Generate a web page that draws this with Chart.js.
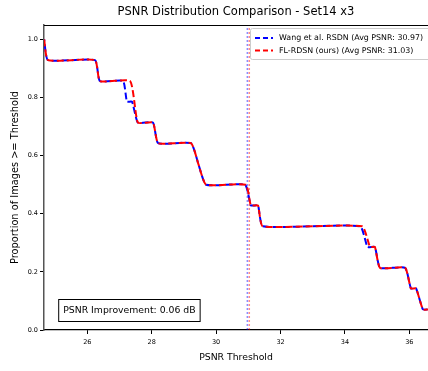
<!DOCTYPE html>
<html>
<head>
<meta charset="utf-8">
<script src="https://cdn.jsdelivr.net/npm/chart.js@4/dist/chart.umd.min.js"></script>
<style>
  html, body { margin: 0; padding: 0; background: #fff; }
</style>
</head>
<body>
<canvas id="myChart" width="428" height="371"></canvas>
<script>
// step corners of the survival curves (proportion of images with PSNR >= threshold)
const rsdnX = [24.66, 24.78, 26.24, 26.39, 27.11, 27.23, 27.39, 27.57, 28.04, 28.20, 29.22, 29.45, 29.69, 30.90, 31.08, 31.30, 31.45, 34.47, 34.70, 34.93, 35.09, 35.87, 36.05, 36.21, 36.42, 36.58];
const rsdnY = [1.0, 0.929, 0.929, 0.857, 0.857, 0.786, 0.786, 0.714, 0.714, 0.643, 0.643, 0.571, 0.5, 0.5, 0.429, 0.429, 0.357, 0.357, 0.286, 0.286, 0.214, 0.214, 0.143, 0.143, 0.071, 0.071];
const oursX = [24.66, 24.78, 26.24, 26.39, 27.33, 27.57, 28.04, 28.20, 29.22, 29.45, 29.69, 30.92, 31.08, 31.30, 31.45, 34.53, 34.78, 34.93, 35.09, 35.87, 36.05, 36.21, 36.42, 36.58];
const oursY = [1.0, 0.929, 0.929, 0.857, 0.857, 0.714, 0.714, 0.643, 0.643, 0.571, 0.5, 0.5, 0.429, 0.429, 0.357, 0.357, 0.286, 0.286, 0.214, 0.214, 0.143, 0.143, 0.071, 0.071];

const seriesNames = ["Wang et al. RSDN", "FL-RDSN (ours)"];
const avgPsnr = [30.97, 31.03];
const xTicks = [26, 28, 30, 32, 34, 36];
const yTicks = [0.0, 0.2, 0.4, 0.6, 0.8, 1.0];

const FONT = "'DejaVu Sans', sans-serif";

function toPoints(xs, ys) {
    return xs.map((x, i) => ({ x: x, y: ys[i] }));
}

// vertical dotted line at the average psnr
function avgLine(value, color, order) {
    return {
        label: "",
        data: [{ x: value, y: 0 }, { x: value, y: 1.05 }],
        borderColor: color,
        borderWidth: 1.5,
        borderDash: [2, 2],
        pointRadius: 0,
        fill: false,
        order: order,
        inLegend: false,
    };
}

// frame line on top of the plot ======================================
const topSpine = {
    id: 'topSpine',
    afterDraw(chart) {
        const { ctx, chartArea: { left, right, top } } = chart;
        ctx.save();
        ctx.strokeStyle = '#000';
        ctx.lineWidth = 1;
        ctx.beginPath();
        ctx.moveTo(left, top + 0.5);
        ctx.lineTo(right, top + 0.5);
        ctx.stroke();
        ctx.restore();
    }
};

// legend in the upper right corner ====================================
const legendBox = {
    id: 'legendBox',
    afterDraw(chart) {
        const ctx = chart.ctx;
        const sets = chart.data.datasets.filter(d => d.inLegend);
        ctx.save();
        ctx.fillStyle = 'rgba(255,255,255,0.8)';
        ctx.strokeStyle = '#cccccc';
        ctx.lineWidth = 1;
        ctx.beginPath();
        ctx.roundRect(250.5, 28.5, 200, 31, 2);
        ctx.fill();
        ctx.stroke();
        ctx.font = "7.9px " + FONT;
        ctx.textBaseline = 'middle';
        sets.forEach((d, i) => {
            const y = 38 + i * 12.5;
            ctx.strokeStyle = d.borderColor;
            ctx.lineWidth = 2;
            ctx.setLineDash([5, 3]);
            ctx.beginPath();
            ctx.moveTo(255, y);
            ctx.lineTo(273, y);
            ctx.stroke();
            ctx.setLineDash([]);
            ctx.fillStyle = '#000';
            ctx.fillText(d.label, 279, y);
        });
        ctx.restore();
    }
};

// improvement text box in the lower left ==============================
const gainBox = {
    id: 'gainBox',
    afterDraw(chart) {
        const { ctx, chartArea: { left, width, bottom } } = chart;
        const text = "PSNR Improvement: " + (avgPsnr[1] - avgPsnr[0]).toFixed(2) + " dB";
        ctx.save();
        ctx.font = "9.3px " + FONT;
        const w = ctx.measureText(text).width;
        const x = left + 0.05 * width;
        const y = bottom - 19;
        ctx.fillStyle = '#fff';
        ctx.strokeStyle = '#000';
        ctx.lineWidth = 1;
        ctx.fillRect(x - 4.5, y - 11.5, w + 9, 22);
        ctx.strokeRect(x - 4.5, y - 11.5, w + 9, 22);
        ctx.fillStyle = '#000';
        ctx.textBaseline = 'middle';
        ctx.fillText(text, x, y);
        ctx.restore();
    }
};

function plot_psnr() {
    let ctx = document.getElementById("myChart");
    let data_rsdn = {
        label: seriesNames[0] + " (Avg PSNR: " + avgPsnr[0].toFixed(2) + ")",
        data: toPoints(rsdnX, rsdnY),
        borderColor: "#0000ff",
        borderWidth: 2,
        borderDash: [7, 3],
        borderDashOffset: 5,
        pointRadius: 0,
        fill: false,
        tension: 0.15,
        order: 1,
        inLegend: true,
    };
    let data_ours = {
        label: seriesNames[1] + " (Avg PSNR: " + avgPsnr[1].toFixed(2) + ")",
        data: toPoints(oursX, oursY),
        borderColor: "#ff0000",
        borderWidth: 2,
        borderDash: [7, 3],
        pointRadius: 0,
        fill: false,
        tension: 0.15,
        order: 0,
        inLegend: true,
    };

    let data = {
        datasets: [
            avgLine(avgPsnr[0], "rgba(0,0,255,0.45)", 3),
            avgLine(avgPsnr[1], "rgba(255,0,0,0.45)", 2),
            data_rsdn,
            data_ours,
        ]
    };

    let options = {
        responsive: false,
        animation: false,
        devicePixelRatio: 1,
        layout: { padding: { top: 0, right: 0, bottom: 0, left: 0 } },
        plugins: {
            legend: { display: false },
            tooltip: { enabled: false },
            title: {
                display: true,
                fullSize: false,
                text: "PSNR Distribution Comparison - Set14 x3",
                color: "#000",
                font: { family: FONT, size: 11.5, weight: "normal" },
                padding: { top: 5, bottom: 6.2 },
            },
        },
        scales: {
            x: {
                type: "linear",
                min: 24.655,
                max: 36.58,
                afterFit: (s) => { s.height = 41; },
                afterBuildTicks: (s) => { s.ticks = xTicks.map(v => ({ value: v })); },
                ticks: {
                    color: "#000",
                    font: { family: FONT, size: 6.5 },
                    padding: 4,
                    maxRotation: 0,
                    autoSkip: false,
                    callback: (v) => String(v),
                },
                grid: { drawOnChartArea: false, drawTicks: true, tickLength: 4, color: "#000" },
                border: { display: true, color: "#000", width: 1.2 },
                title: {
                    display: true,
                    text: "PSNR Threshold",
                    color: "#000",
                    font: { family: FONT, size: 9.3 },
                    padding: { top: 0, bottom: 8 },
                },
            },
            y: {
                type: "linear",
                min: 0,
                max: 1.05,
                afterFit: (s) => { s.width = 44; },
                afterBuildTicks: (s) => { s.ticks = yTicks.map(v => ({ value: v })); },
                ticks: {
                    color: "#000",
                    font: { family: FONT, size: 6.5 },
                    padding: 2,
                    autoSkip: false,
                    callback: (v) => v.toFixed(1),
                },
                grid: { drawOnChartArea: false, drawTicks: true, tickLength: 4, color: "#000" },
                border: { display: true, color: "#555", width: 1.5 },
                title: {
                    display: true,
                    text: "Proportion of Images >= Threshold",
                    color: "#000",
                    font: { family: FONT, size: 9.8 },
                    padding: { top: 10, bottom: 0 },
                },
            },
        },
    };

    new Chart(ctx, {
        type: "line",
        data: data,
        options: options,
        plugins: [topSpine, legendBox, gainBox],
    });
}

plot_psnr();
</script>
</body>
</html>
